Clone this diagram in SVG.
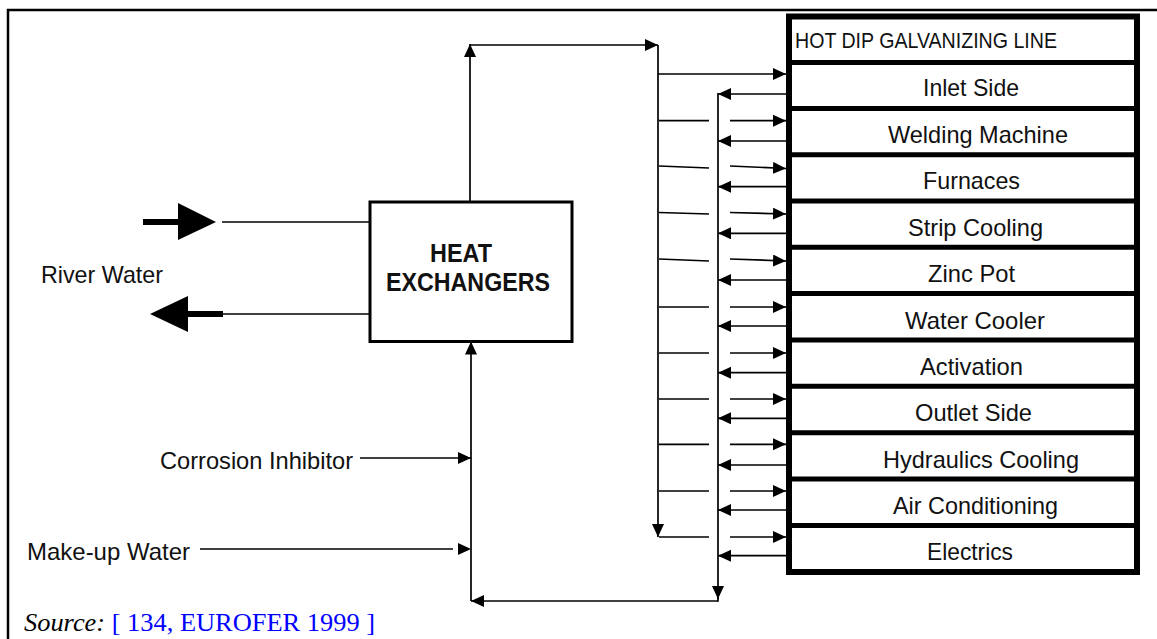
<svg xmlns="http://www.w3.org/2000/svg" width="1157" height="639" viewBox="0 0 1157 639">
<style>
  .t{font-family:"Liberation Sans",Arial,sans-serif;fill:#111}
  .lbl{font-size:24px}
  .ln{stroke:#000;stroke-width:1.7;fill:none}
  .thk{stroke:#000;fill:none}
</style>
<defs>
  <marker id="ah" markerUnits="userSpaceOnUse" markerWidth="14" markerHeight="13" refX="13" refY="6" orient="auto">
    <path d="M0,0 L13,6 L0,12 z" fill="#000"/>
  </marker>
</defs>
<rect width="1157" height="639" fill="#fff"/>
<!-- frame -->
<path d="M8,639 V10 H1157" class="thk" stroke-width="2.5"/>

<g id="galvanizing-line">
  <rect x="789" y="16.5" width="348" height="555.5" class="thk" stroke-width="6"/>
  <g stroke="#000" stroke-width="5">
    <line x1="789" y1="62.5" x2="1137" y2="62.5"/>
    <line x1="789" y1="108.5" x2="1137" y2="108.5"/>
    <line x1="789" y1="154.8" x2="1137" y2="154.8"/>
    <line x1="789" y1="201" x2="1137" y2="201"/>
    <line x1="789" y1="247.2" x2="1137" y2="247.2"/>
    <line x1="789" y1="293.6" x2="1137" y2="293.6"/>
    <line x1="789" y1="340" x2="1137" y2="340"/>
    <line x1="789" y1="386.2" x2="1137" y2="386.2"/>
    <line x1="789" y1="432.7" x2="1137" y2="432.7"/>
    <line x1="789" y1="479" x2="1137" y2="479"/>
    <line x1="789" y1="525.6" x2="1137" y2="525.6"/>
  </g>
  <text class="t" x="795" y="47.5" font-size="22" textLength="262" lengthAdjust="spacingAndGlyphs">HOT DIP GALVANIZING LINE</text>
  <text class="t lbl" x="923" y="96" textLength="96" lengthAdjust="spacingAndGlyphs">Inlet Side</text>
  <text class="t lbl" x="888" y="142.5" textLength="180" lengthAdjust="spacingAndGlyphs">Welding Machine</text>
  <text class="t lbl" x="923" y="189" textLength="97" lengthAdjust="spacingAndGlyphs">Furnaces</text>
  <text class="t lbl" x="908" y="236" textLength="135" lengthAdjust="spacingAndGlyphs">Strip Cooling</text>
  <text class="t lbl" x="928" y="282" textLength="87" lengthAdjust="spacingAndGlyphs">Zinc Pot</text>
  <text class="t lbl" x="905" y="328.5" textLength="140" lengthAdjust="spacingAndGlyphs">Water Cooler</text>
  <text class="t lbl" x="920" y="375" textLength="103" lengthAdjust="spacingAndGlyphs">Activation</text>
  <text class="t lbl" x="915" y="421" textLength="117" lengthAdjust="spacingAndGlyphs">Outlet Side</text>
  <text class="t lbl" x="883" y="467.5" textLength="196" lengthAdjust="spacingAndGlyphs">Hydraulics Cooling</text>
  <text class="t lbl" x="893" y="514" textLength="165" lengthAdjust="spacingAndGlyphs">Air Conditioning</text>
  <text class="t lbl" x="927" y="560" textLength="86" lengthAdjust="spacingAndGlyphs">Electrics</text>
</g>

<g id="heat-exchangers">
  <rect x="370" y="202" width="202" height="139.5" fill="#fff" class="thk" stroke-width="3"/>
  <text class="t" x="430" y="262" font-size="25" font-weight="bold" textLength="62" lengthAdjust="spacingAndGlyphs">HEAT</text>
  <text class="t" x="386" y="291" font-size="25" font-weight="bold" textLength="164" lengthAdjust="spacingAndGlyphs">EXCHANGERS</text>
</g>

<g id="river-water">
  <text class="t" x="41" y="283" font-size="24" textLength="122" lengthAdjust="spacingAndGlyphs">River Water</text>
</g>
<g id="corrosion-inhibitor">
  <text class="t" x="160" y="469" font-size="24" textLength="193" lengthAdjust="spacingAndGlyphs">Corrosion Inhibitor</text>
</g>
<g id="make-up-water">
  <text class="t" x="27" y="560" font-size="24" textLength="163" lengthAdjust="spacingAndGlyphs">Make-up Water</text>
</g>

<g id="connectors">
  <!-- river water in -->
  <line x1="143" y1="222" x2="180" y2="222" stroke="#000" stroke-width="6"/>
  <polygon points="178,203 216,222 178,240" fill="#000"/>
  <line x1="222" y1="222" x2="370" y2="222" class="ln"/>
  <!-- river water out -->
  <line x1="370" y1="314" x2="223" y2="314" class="ln"/>
  <line x1="223" y1="314" x2="186" y2="314" stroke="#000" stroke-width="6"/>
  <polygon points="188,296 150,314 188,332" fill="#000"/>

  <!-- supply from HE top -->
  <line x1="470" y1="202" x2="470" y2="44" class="ln" marker-end="url(#ah)"/>
  <line x1="470" y1="45" x2="658" y2="45" class="ln" marker-end="url(#ah)"/>
  <line x1="658" y1="45" x2="658" y2="537" class="ln" marker-end="url(#ah)"/>

  <!-- feeds into line -->
  <line x1="658" y1="74" x2="786" y2="74" class="ln" marker-end="url(#ah)"/>
  <g class="ln">
    <line x1="659" y1="120.7" x2="709" y2="120.7"/>
    <line x1="659" y1="166" x2="709" y2="168"/>
    <line x1="659" y1="212.5" x2="709" y2="214"/>
    <line x1="659" y1="259" x2="709" y2="261"/>
    <line x1="659" y1="307" x2="709" y2="307"/>
    <line x1="659" y1="353" x2="709" y2="353"/>
    <line x1="659" y1="399" x2="709" y2="399"/>
    <line x1="659" y1="444.3" x2="709" y2="444.3"/>
    <line x1="659" y1="491" x2="709" y2="491"/>
    <line x1="659" y1="537" x2="709" y2="537"/>
  </g>
  <g class="ln" marker-end="url(#ah)">
    <line x1="730" y1="120.7" x2="786" y2="120.7"/>
    <line x1="730" y1="166" x2="786" y2="168.5"/>
    <line x1="730" y1="212.5" x2="786" y2="214"/>
    <line x1="730" y1="259" x2="786" y2="261"/>
    <line x1="730" y1="307" x2="786" y2="307"/>
    <line x1="730" y1="353" x2="786" y2="353"/>
    <line x1="730" y1="399" x2="786" y2="399"/>
    <line x1="730" y1="444.3" x2="786" y2="444.3"/>
    <line x1="730" y1="491" x2="786" y2="491"/>
    <line x1="730" y1="537" x2="786" y2="537"/>
  </g>
  <!-- returns from line -->
  <g class="ln" marker-end="url(#ah)">
    <line x1="786" y1="94" x2="718" y2="94"/>
    <line x1="786" y1="141" x2="718" y2="141"/>
    <line x1="786" y1="186.7" x2="718" y2="186.7"/>
    <line x1="786" y1="233.3" x2="718" y2="233.3"/>
    <line x1="786" y1="280" x2="718" y2="280"/>
    <line x1="786" y1="326" x2="718" y2="326"/>
    <line x1="786" y1="372.7" x2="718" y2="372.7"/>
    <line x1="786" y1="418.3" x2="718" y2="418.3"/>
    <line x1="786" y1="465" x2="718" y2="465"/>
    <line x1="786" y1="510" x2="718" y2="510"/>
    <line x1="786" y1="555.7" x2="718" y2="555.7"/>
  </g>
  <line x1="718" y1="93" x2="718" y2="599" class="ln" marker-end="url(#ah)"/>
  <line x1="718" y1="598" x2="718" y2="601.8" class="ln"/>
  <line x1="718" y1="601" x2="471" y2="601" class="ln" marker-end="url(#ah)"/>
  <line x1="471" y1="601" x2="471" y2="341.5" class="ln" marker-end="url(#ah)"/>

  <!-- corrosion inhibitor -->
  <line x1="360" y1="458" x2="471" y2="458" class="ln" marker-end="url(#ah)"/>
  <!-- make-up water -->
  <line x1="200" y1="549" x2="453" y2="549" class="ln"/>
  <polygon points="458,543 471,549 458,555" fill="#000"/>
</g>

<text x="24" y="631" font-family="'Liberation Serif','Times New Roman',serif" font-size="25" textLength="351" lengthAdjust="spacingAndGlyphs"><tspan font-style="italic" fill="#000">Source:</tspan><tspan fill="#0000ff"> [ 134, EUROFER 1999 ]</tspan></text>
</svg>
